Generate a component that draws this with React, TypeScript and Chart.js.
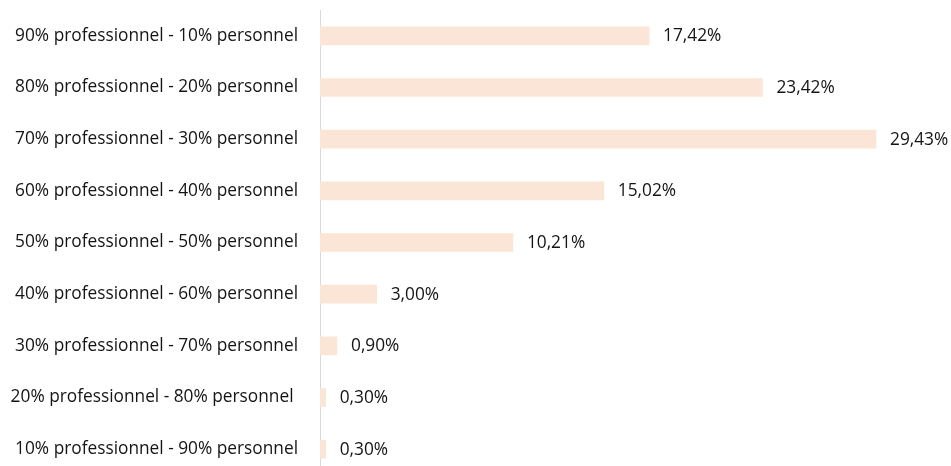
import React, { useEffect, useRef } from "react";
import { Chart, registerables } from "chart.js";

Chart.register(...registerables);

const categories = [
  "90% professionnel - 10% personnel",
  "80% professionnel - 20% personnel",
  "70% professionnel - 30% personnel",
  "60% professionnel - 40% personnel",
  "50% professionnel - 50% personnel",
  "40% professionnel - 60% personnel",
  "30% professionnel - 70% personnel",
  "20% professionnel - 80% personnel ",
  "10% professionnel - 90% personnel",
];

const values = [17.42, 23.42, 29.43, 15.02, 10.21, 3.0, 0.9, 0.3, 0.3];

const FONT = "'Open Sans', sans-serif";
const TEXT = "#141414";

const valueLabels = {
  id: "valueLabels",
  afterDatasetsDraw(chart: any) {
    const ctx = chart.ctx;
    const meta = chart.getDatasetMeta(0);
    ctx.save();
    ctx.font = `17.3px ${FONT}`;
    ctx.fillStyle = TEXT;
    ctx.textAlign = "left";
    ctx.textBaseline = "middle";
    meta.data.forEach((bar: any, i: number) => {
      const txt = values[i].toFixed(2).replace(".", ",") + "%";
      ctx.fillText(txt, bar.x + 14, bar.y + 0.5);
    });
    ctx.restore();
  },
};

export default function App() {
  const ref = useRef<HTMLCanvasElement>(null);
  useEffect(() => {
    if (!ref.current) return;
    const chart = new Chart(ref.current, {
      type: "bar",
      data: {
        labels: categories,
        datasets: [
          {
            data: values,
            backgroundColor: "#FBE5D6",
            borderWidth: 0,
            barThickness: 18,
          },
        ],
      },
      options: {
        indexAxis: "y",
        animation: false,
        responsive: false,
        devicePixelRatio: 1,
        layout: { padding: { top: 10, bottom: 5, left: 0, right: 0 } },
        plugins: { legend: { display: false }, tooltip: { enabled: false } },
        scales: {
          x: { display: false, min: 0, max: 33.4 },
          y: {
            afterFit(scale: any) {
              scale.width = 320;
              scale.paddingTop = 0;
              scale.paddingBottom = 0;
            },
            grid: { display: false, drawTicks: false },
            border: { display: true, color: "#d9d9d9", width: 1 },
            ticks: {
              padding: 22,
              color: TEXT,
              font: { family: FONT, size: 17.3 },
            },
          },
        },
      },
      plugins: [valueLabels],
    });
    return () => chart.destroy();
  }, []);
  return (
    <div style={{ position: "fixed", left: 0, top: 0, width: 951, height: 480, background: "#fff" }}>
      <canvas ref={ref} width={951} height={480} />
    </div>
  );
}
